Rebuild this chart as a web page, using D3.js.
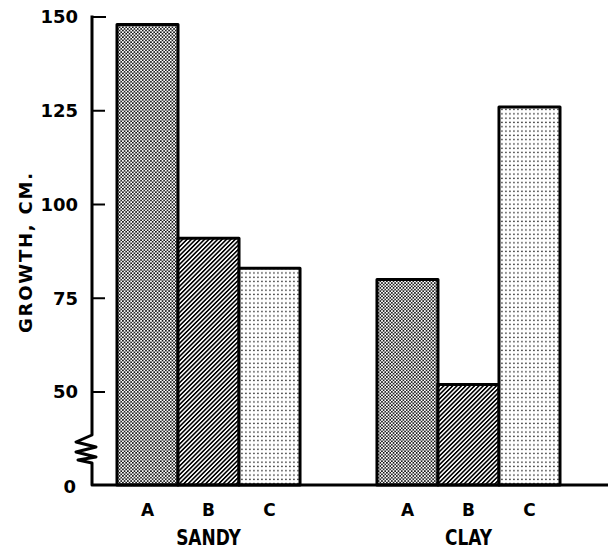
<!DOCTYPE html>
<html>
<head>
<meta charset="utf-8">
<script src="https://cdn.jsdelivr.net/npm/d3@7"></script>
<style>
  html, body { margin: 0; padding: 0; background: #fff; }
  svg { display: block; }
</style>
</head>
<body>
<script>
// ---- data ----
const groups = ["SANDY", "CLAY"];
const treatments = ["A", "B", "C"];
const sandyValues = [148, 91, 83];
const clayValues = [80, 52, 126];
const yTicks = [0, 50, 75, 100, 125, 150];
const yLabel = "GROWTH, CM.";

const rows = [];
groups.forEach((g, gi) => {
  const vals = gi === 0 ? sandyValues : clayValues;
  treatments.forEach((t, ti) => rows.push({ group: g, treatment: t, value: vals[ti] }));
});

const W = 608, H = 550;
const svg = d3.select("body").append("svg").attr("width", W).attr("height", H);

// patterns
const defs = svg.append("defs");
const pA = defs.append("pattern").attr("id", "pat-A").attr("patternUnits", "userSpaceOnUse")
  .attr("width", 3.3).attr("height", 3.3);
pA.append("rect").attr("width", 3.3).attr("height", 3.3).attr("fill", "#fff");
pA.append("circle").attr("cx", 0.82).attr("cy", 0.82).attr("r", 0.9).attr("fill", "#000");
pA.append("circle").attr("cx", 2.47).attr("cy", 2.47).attr("r", 0.9).attr("fill", "#000");

const pB = defs.append("pattern").attr("id", "pat-B").attr("patternUnits", "userSpaceOnUse")
  .attr("width", 3.1).attr("height", 3.1).attr("patternTransform", "rotate(45)");
pB.append("rect").attr("width", 3.1).attr("height", 3.1).attr("fill", "#fff");
pB.append("rect").attr("width", 1.6).attr("height", 3.1).attr("fill", "#000");

const pC = defs.append("pattern").attr("id", "pat-C").attr("patternUnits", "userSpaceOnUse")
  .attr("width", 4.0).attr("height", 4.3);
pC.append("rect").attr("width", 4.0).attr("height", 4.3).attr("fill", "#fff");
pC.append("rect").attr("x", 1.3).attr("y", 1.4).attr("width", 1.3).attr("height", 1.3).attr("fill", "#000");

// scales (broken axis between 0 and 50)
const y = d3.scaleLinear().domain([0, 50, 150]).range([485, 392, 17]);
const xGroup = d3.scaleBand().domain(groups).range([117, 560]).paddingInner(0.296).paddingOuter(0);
const xInner = d3.scaleBand().domain(treatments).range([0, xGroup.bandwidth()]).padding(0);

const axisX = 92;
const font = "'DejaVu Sans', sans-serif";

// bars
svg.append("g").selectAll("rect").data(rows).join("rect")
  .attr("x", d => xGroup(d.group) + xInner(d.treatment))
  .attr("y", d => y(d.value))
  .attr("width", xInner.bandwidth())
  .attr("height", d => y(0) - y(d.value))
  .attr("fill", d => `url(#pat-${d.treatment})`)
  .attr("stroke", "#000").attr("stroke-width", 3).attr("stroke-linejoin", "round");

// y axis line with break
const brkTop = 435, brkBot = 463;
const brkPts = [
  [axisX, y(150)], [axisX, brkTop], [76, 442], [96, 447], [76, 452], [96, 457], [78, 460], [axisX, brkBot], [axisX, y(0)], [W, y(0)]
];
svg.append("path")
  .attr("d", d3.line()(brkPts))
  .attr("fill", "none").attr("stroke", "#000").attr("stroke-width", 3)
  .attr("stroke-linejoin", "round").attr("stroke-linecap", "square");

// ticks
const tickG = svg.append("g");
tickG.selectAll("line").data(yTicks.filter(v => v > 0)).join("line")
  .attr("x1", axisX).attr("x2", d => d === 150 ? 106 : 105)
  .attr("y1", d => y(d)).attr("y2", d => y(d))
  .attr("stroke", "#000").attr("stroke-width", 2);
tickG.selectAll("text").data(yTicks).join("text")
  .attr("x", d => d === 0 ? 76 : 78)
  .attr("y", d => (d === 0 ? y(d) + 2 : y(d)))
  .attr("dy", "0.36em")
  .attr("text-anchor", "end")
  .attr("font-family", font).attr("font-weight", "bold").attr("font-size", 18)
  .text(d => d);

// y label
svg.append("text")
  .attr("transform", `translate(32,253) rotate(-90)`)
  .attr("text-anchor", "middle")
  .attr("font-family", font).attr("font-weight", "bold").attr("font-size", 18)
  .attr("textLength", 160).attr("lengthAdjust", "spacing")
  .text(yLabel);

// treatment labels
svg.append("g").selectAll("text").data(rows).join("text")
  .attr("x", d => xGroup(d.group) + xInner(d.treatment) + xInner.bandwidth() / 2)
  .attr("y", 516)
  .attr("text-anchor", "middle")
  .attr("font-family", font).attr("font-weight", "bold").attr("font-size", 17)
  .text(d => d.treatment);

// group labels
svg.append("g").selectAll("text").data(groups).join("text")
  .attr("transform", g => `translate(${xGroup(g) + xGroup.bandwidth() / 2},545) scale(1,1.2)`)
  .attr("text-anchor", "middle")
  .attr("font-family", font).attr("font-weight", "bold").attr("font-size", 17)
  .text(g => g);
</script>
</body>
</html>
